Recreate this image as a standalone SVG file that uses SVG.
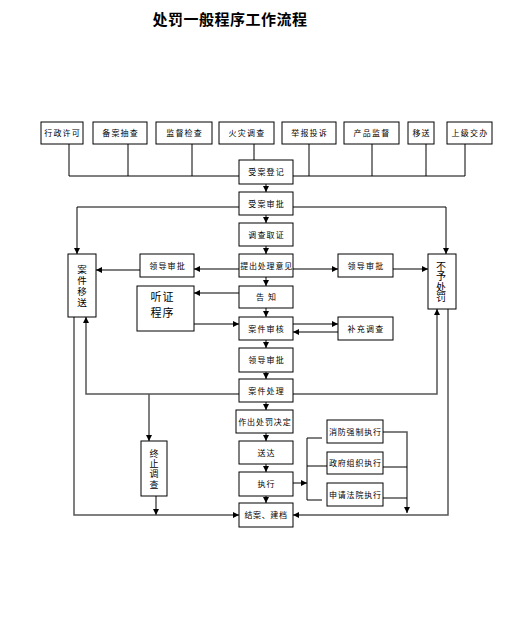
<svg xmlns="http://www.w3.org/2000/svg" width="507" height="633" viewBox="0 0 507 633">
<style>
.box{fill:#fff;stroke:#000;stroke-width:1}
.t{font-family:"Noto Sans CJK SC","Noto Sans",sans-serif;font-size:8px;letter-spacing:1.2px;text-anchor:middle;fill:#000}
.tv{font-family:"Noto Sans CJK SC","Noto Sans",sans-serif;font-size:9.5px;text-anchor:middle;fill:#000;writing-mode:vertical-rl;text-orientation:upright}
.tz{font-family:"Noto Sans CJK SC","Noto Sans",sans-serif;font-size:11px;letter-spacing:1px;text-anchor:middle;fill:#000}
.ln{fill:none;stroke:#000;stroke-width:1}
.lg{fill:none;stroke:#555;stroke-width:1.5}
.title{font-family:"Noto Sans CJK SC",sans-serif;font-size:15px;font-weight:bold;letter-spacing:0.5px;text-anchor:middle;fill:#000}
</style>
<defs>
<marker id="ah" markerUnits="userSpaceOnUse" markerWidth="6" markerHeight="6" refX="6" refY="3" orient="auto">
<path d="M0,0 L6,3 L0,6 z" fill="#000"/>
</marker>
</defs>
<rect width="507" height="633" fill="#fff"/>
<text id="title" class="title" x="230" y="25">处罚一般程序工作流程</text>

<g id="connectors">
<path class="ln" d="M69,176 H239 M293,176 H465"/>
<path class="ln" d="M69,144 V176 M128,144 V176 M192,144 V176 M254,144 V160 M309,144 V176 M372,144 V176 M426,144 V176 M465,144 V176"/>
<g marker-end="url(#ah)">
<path class="ln" d="M266,184 V192"/>
<path class="ln" d="M266,215 V223"/>
<path class="ln" d="M266,246 V254"/>
<path class="ln" d="M266,277 V286"/>
<path class="ln" d="M266,308 V317"/>
<path class="ln" d="M266,340 V348"/>
<path class="ln" d="M266,372 V379"/>
<path class="ln" d="M266,402 V410"/>
<path class="ln" d="M266,433 V441"/>
<path class="ln" d="M266,464 V472"/>
<path class="ln" d="M266,496 V503"/>
<path class="ln" d="M239,207 H77 V254"/>
<path class="ln" d="M293,207 H446 V254"/>
<path class="ln" d="M239,269 H194"/>
<path class="lg" d="M140,270 H96"/>
<path class="lg" d="M293,269 H338"/>
<path class="ln" d="M393,269 H428"/>
<path class="lg" d="M239,293 H194"/>
<path class="lg" d="M194,324 H239"/>
<path class="lg" d="M293,324 H338"/>
<path class="lg" d="M338,332 H293"/>
<path class="lg" d="M239,394 H86 V317"/>
<path class="lg" d="M293,394 H437 V309"/>
<path class="lg" d="M149,394 V441"/>
<path class="lg" d="M74,317 V515 H239"/>
<path class="lg" d="M156,496 V515"/>
<path class="lg" d="M448,309 V515 H293"/>
<path class="ln" d="M290,483 H307"/>
<path class="lg" d="M383,432 H407 V513"/>
</g>
<path class="ln" d="M322,438 H307 V500 H322 M307,466 H327"/>
<path class="ln" d="M383,467 H407 M383,498 H407"/>
</g>

<g id="n-xzxk"><rect class="box" x="41" y="122" width="42" height="22"/><text class="t" x="62.6" y="136">行政许可</text></g>
<g id="n-bacc"><rect class="box" x="93" y="122" width="54" height="22"/><text class="t" x="120.6" y="136">备案抽查</text></g>
<g id="n-jdjc"><rect class="box" x="156" y="122" width="56" height="22"/><text class="t" x="184.6" y="136">监督检查</text></g>
<g id="n-hzdc"><rect class="box" x="219" y="122" width="55" height="22"/><text class="t" x="247" y="136">火灾调查</text></g>
<g id="n-jbts"><rect class="box" x="282" y="122" width="54" height="22"/><text class="t" x="309.6" y="136">举报投诉</text></g>
<g id="n-cpjd"><rect class="box" x="344" y="122" width="55" height="22"/><text class="t" x="372" y="136">产品监督</text></g>
<g id="n-ys"><rect class="box" x="408" y="122" width="26" height="22"/><text class="t" x="421.6" y="136">移送</text></g>
<g id="n-sjjb"><rect class="box" x="447" y="122" width="45" height="22"/><text class="t" x="470" y="136">上级交办</text></g>

<g id="n-sadj"><rect class="box" x="239" y="160" width="54" height="24"/><text class="t" x="266.6" y="175">受案登记</text></g>
<g id="n-sasp"><rect class="box" x="239" y="192" width="54" height="23"/><text class="t" x="266.6" y="206.5">受案审批</text></g>
<g id="n-dcqz"><rect class="box" x="239" y="223" width="54" height="23"/><text class="t" x="266.6" y="237.5">调查取证</text></g>
<g id="n-tccl"><rect class="box" x="239" y="254" width="54" height="23"/><text class="t" x="266.6" y="268.5" style="letter-spacing:0.8px">提出处理意见</text></g>
<g id="n-gz"><rect class="box" x="239" y="286" width="54" height="22"/><text class="t" x="266.6" y="300">告 知</text></g>
<g id="n-ajsh"><rect class="box" x="239" y="317" width="54" height="23"/><text class="t" x="266.6" y="331.5">案件审核</text></g>
<g id="n-ldsp"><rect class="box" x="239" y="348" width="54" height="24"/><text class="t" x="266.6" y="363">领导审批</text></g>
<g id="n-ajcl"><rect class="box" x="239" y="379" width="54" height="23"/><text class="t" x="266.6" y="393.5">案件处理</text></g>
<g id="n-zccf"><rect class="box" x="236" y="410" width="57" height="23"/><text class="t" x="264.9" y="424.5" style="letter-spacing:0.9px">作出处罚决定</text></g>
<g id="n-sd"><rect class="box" x="239" y="441" width="54" height="23"/><text class="t" x="266.6" y="455.5">送达</text></g>
<g id="n-zx"><rect class="box" x="239" y="472" width="54" height="24"/><text class="t" x="266.6" y="487">执行</text></g>
<g id="n-ja"><rect class="box" x="239" y="503" width="54" height="24"/><text class="t" x="266" y="518" style="letter-spacing:0.6px">结案、建档</text></g>

<g id="n-ajys"><rect class="box" x="68" y="254" width="28" height="63"/><text class="tv" x="82" y="286.5" style="letter-spacing:1.5px">案件移送</text></g>
<g id="n-bycf"><rect class="box" x="428" y="254" width="28" height="55"/><text class="tv" x="441" y="282" style="font-size:10px;letter-spacing:0.6px">不予处罚</text></g>
<g id="n-ldsp-l"><rect class="box" x="140" y="254" width="54" height="23"/><text class="t" x="167.6" y="268.5">领导审批</text></g>
<g id="n-ldsp-r"><rect class="box" x="338" y="254" width="55" height="23"/><text class="t" x="366" y="268.5">领导审批</text></g>
<g id="n-tzcx"><rect class="box" x="137" y="286" width="57" height="45"/><text class="tz"><tspan x="162.5" y="301">听证</tspan><tspan x="162.5" y="317">程序</tspan></text></g>
<g id="n-bcdc"><rect class="box" x="338" y="317" width="55" height="23"/><text class="t" x="366" y="331.5">补充调查</text></g>
<g id="n-zzdc"><rect class="box" x="141" y="441" width="26" height="55"/><text class="tv" x="154" y="469.5" style="font-size:9px;letter-spacing:1.3px">终止调查</text></g>
<g id="n-xfqz"><rect class="box" x="327" y="420" width="56" height="23"/><text class="t" x="355.4" y="434.5" style="letter-spacing:0.8px">消防强制执行</text></g>
<g id="n-zfzz"><rect class="box" x="327" y="452" width="56" height="22"/><text class="t" x="355.4" y="466" style="letter-spacing:0.8px">政府组织执行</text></g>
<g id="n-sqfy"><rect class="box" x="327" y="483" width="56" height="23"/><text class="t" x="355.4" y="497.5" style="letter-spacing:0.8px">申请法院执行</text></g>
</svg>
